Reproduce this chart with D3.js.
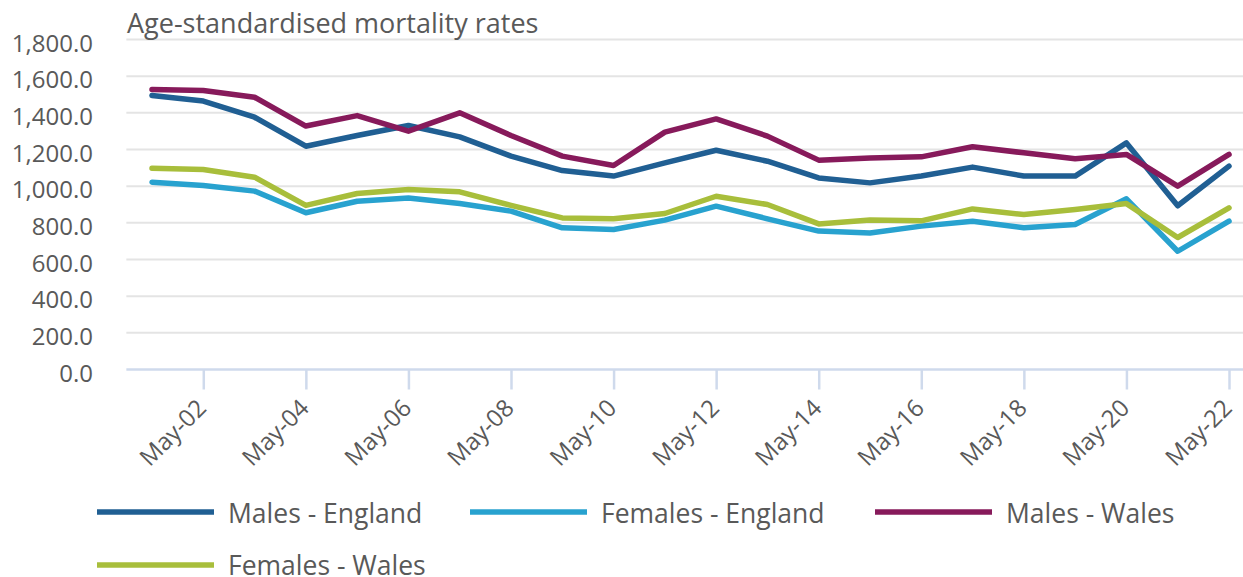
<!DOCTYPE html>
<html>
<head>
<meta charset="utf-8">
<script src="https://cdn.jsdelivr.net/npm/d3@7"></script>
<style>
  body { margin: 0; background: #fff; }
  svg text { font-family: 'Open Sans', sans-serif; fill: #595959; }
</style>
</head>
<body>
<div id="chart"></div>
<script>
// data (age-standardised mortality rates, May-01 .. May-22)
const years = d3.range(1, 23).map((y) => `May-${String(y).padStart(2, '0')}`);
const malesEngland = [1495, 1464, 1376, 1218, 1276, 1331, 1269, 1164, 1085, 1055, 1127, 1196, 1136, 1045, 1018, 1055, 1104, 1055, 1055, 1236, 893, 1109];
const femalesEngland = [1022, 1004, 973, 855, 918, 936, 905, 864, 773, 764, 815, 891, 822, 755, 745, 782, 809, 773, 791, 931, 645, 809];
const malesWales = [1527, 1522, 1485, 1328, 1385, 1300, 1400, 1276, 1164, 1113, 1295, 1367, 1273, 1142, 1154, 1160, 1215, 1182, 1149, 1173, 1000, 1173];
const femalesWales = [1098, 1091, 1049, 895, 960, 982, 969, 895, 827, 822, 851, 945, 900, 794, 815, 811, 876, 845, 873, 905, 720, 882];
const yTicks = [0, 200, 400, 600, 800, 1000, 1200, 1400, 1600, 1800];

const series = [
  { name: 'Males - England', values: malesEngland, color: '#205f93' },
  { name: 'Females - England', values: femalesEngland, color: '#28a2cf' },
  { name: 'Males - Wales', values: malesWales, color: '#871a5b' },
  { name: 'Females - Wales', values: femalesWales, color: '#a8be3b' },
];

const width = 1243;
const height = 577;

const svg = d3
  .select('#chart')
  .append('svg')
  .attr('width', width)
  .attr('height', height);

const x = d3.scaleLinear().domain([0, years.length - 1]).range([152, 1229]);
const y = d3.scaleLinear().domain([0, 1800]).range([369.5, 39.5]);
const left = x(-0.5);

// gridlines
svg
  .append('g')
  .selectAll('line')
  .data(yTicks.filter((d) => d > 0))
  .join('line')
  .attr('x1', left)
  .attr('x2', width)
  .attr('y1', (d) => y(d))
  .attr('y2', (d) => y(d))
  .attr('stroke', '#e4e4e4')
  .attr('stroke-width', 2);

// Y axis labels
const yAxis = svg
  .append('g')
  .attr('transform', 'translate(93, 0)')
  .call(d3.axisLeft(y).tickValues(yTicks).tickSize(0).tickPadding(0).tickFormat(d3.format(',.1f')));
yAxis.select('.domain').remove();
yAxis.selectAll('text').style('font-size', '24px').attr('dy', '0.49em');

// X axis
const evenIdx = years.map((d, i) => i).filter((i) => i % 2 === 1);
const xAxis = svg
  .append('g')
  .attr('transform', `translate(0, ${y(0)})`)
  .call(d3.axisBottom(x).tickValues(evenIdx).tickSize(20).tickSizeOuter(0).tickFormat((i) => years[i]));
xAxis.select('.domain').attr('d', `M${left},0H${width}`).attr('stroke', '#cfdaec').attr('stroke-width', 2.5);
xAxis.selectAll('.tick line').attr('stroke', '#cfdaec').attr('stroke-width', 2.5);
xAxis
  .selectAll('.tick text')
  .style('font-size', '24px')
  .attr('text-anchor', 'end')
  .attr('dy', null)
  .attr('y', null)
  .attr('transform', 'translate(4, 40) rotate(-45)');

// lines
const line = d3
  .line()
  .x((d, i) => x(i))
  .y((d) => y(d));

svg
  .append('g')
  .selectAll('path')
  .data(series)
  .join('path')
  .attr('d', (d) => line(d.values))
  .attr('fill', 'none')
  .attr('stroke', (d) => d.color)
  .attr('stroke-width', 5.5)
  .attr('stroke-linejoin', 'round')
  .attr('stroke-linecap', 'round');

// title
svg
  .append('text')
  .attr('x', 127)
  .attr('y', 33)
  .style('font-size', '27px')
  .text('Age-standardised mortality rates');

// legend
const legendPos = [
  [97, 512],
  [470, 512],
  [875, 512],
  [97, 565],
];
const legend = svg
  .append('g')
  .selectAll('g')
  .data(series)
  .join('g')
  .attr('transform', (d, i) => `translate(${legendPos[i][0]}, ${legendPos[i][1]})`);
legend
  .append('line')
  .attr('x1', 0)
  .attr('x2', 117)
  .attr('stroke', (d) => d.color)
  .attr('stroke-width', 5.5);
legend
  .append('text')
  .attr('x', 131)
  .attr('y', (d, i) => (i === 3 ? 9.5 : 11))
  .style('font-size', '26.5px')
  .text((d) => d.name);
</script>
</body>
</html>
